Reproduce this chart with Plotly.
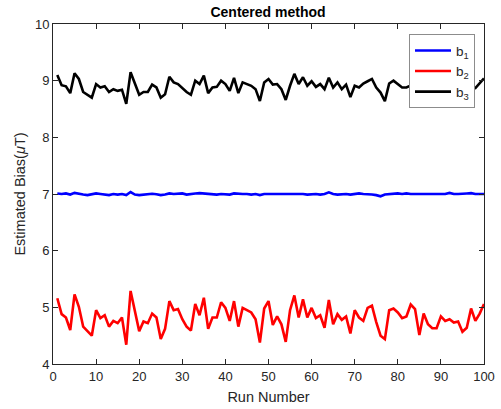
import plotly.graph_objects as go

runs = list(range(1, 101))

b1 = [7.01, 7.00, 7.01, 6.99, 7.02, 7.00, 6.99, 6.98, 7.00, 7.01,
      7.00, 6.99, 6.98, 7.00, 6.99, 7.00, 6.98, 7.035, 6.99, 6.98,
      6.99, 7.00, 7.005, 6.995, 6.98, 6.99, 7.01, 7.00, 7.01, 7.01,
      6.99, 7.005, 7.01, 7.015, 7.01, 7.01, 7.00, 6.99, 7.00, 6.99,
      6.99, 7.01, 7.00, 7.00, 7.00, 6.99, 7.00, 6.98, 7.00, 7.00,
      7.00, 7.00, 7.01, 7.00, 7.00, 7.01, 7.00, 7.00, 6.99, 7.00,
      7.00, 6.99, 7.00, 7.03, 7.00, 6.99, 7.00, 7.00, 6.99, 7.00,
      7.01, 7.00, 7.00, 6.99, 6.98, 6.96, 6.99, 7.00, 7.01, 7.01,
      7.00, 7.01, 7.00, 7.00, 7.00, 6.99, 6.99, 6.99, 6.99, 7.00,
      7.00, 7.02, 7.00, 7.00, 7.00, 7.01, 7.015, 7.00, 7.00, 7.00]

b2 = [5.16, 4.88, 4.82, 4.60, 5.23, 5.01, 4.66, 4.58, 4.50, 4.95,
      4.81, 4.86, 4.66, 4.76, 4.72, 4.82, 4.34, 5.29, 4.92, 4.58,
      4.75, 4.72, 4.89, 4.82, 4.44, 4.62, 5.11, 4.95, 4.97, 4.79,
      4.66, 4.59, 5.06, 4.86, 5.17, 4.62, 4.82, 4.82, 5.09, 4.99,
      4.76, 5.11, 4.66, 4.99, 4.95, 4.91, 4.79, 4.38, 4.98, 5.11,
      4.69, 4.84, 4.70, 4.39, 4.95, 5.21, 4.82, 5.14, 4.82, 4.99,
      4.81, 4.86, 4.64, 5.13, 4.70, 4.88, 4.78, 4.84, 4.54, 4.95,
      4.82, 4.76, 4.99, 5.03, 4.74, 4.50, 4.44, 4.95, 4.98, 4.91,
      4.81, 4.84, 5.05, 4.97, 4.51, 4.89, 4.70, 4.63, 4.63, 4.84,
      4.76, 4.79, 4.73, 4.75, 4.57, 4.64, 4.98, 4.76, 4.89, 5.06]

b3 = [9.10, 8.92, 8.90, 8.78, 9.13, 9.03, 8.80, 8.75, 8.70, 8.94,
      8.88, 8.90, 8.80, 8.85, 8.82, 8.84, 8.59, 9.15, 8.95, 8.75,
      8.80, 8.80, 8.93, 8.88, 8.70, 8.76, 9.07, 8.97, 8.94, 8.87,
      8.80, 8.75, 9.00, 8.94, 9.09, 8.78, 8.88, 8.89, 9.00, 8.94,
      8.82, 9.05, 8.78, 8.97, 8.94, 8.91, 8.85, 8.64, 8.97, 9.03,
      8.93, 8.94, 8.85, 8.66, 8.91, 9.12, 8.94, 9.06, 8.91, 8.99,
      8.89, 8.94, 8.85, 9.05, 8.88, 8.97, 8.85, 8.93, 8.71, 8.91,
      8.88, 8.95, 8.99, 9.03, 8.88, 8.79, 8.64, 8.95, 9.00, 8.94,
      8.88, 8.88, 8.92, 8.95, 8.85, 9.02, 8.80, 8.93, 8.88, 9.05,
      8.82, 8.95, 8.90, 8.78, 8.98, 8.92, 8.85, 8.87, 8.96, 9.04]

series = [("b<sub>1</sub>", b1, "#0000FF"),
          ("b<sub>2</sub>", b2, "#FF0000"),
          ("b<sub>3</sub>", b3, "#000000")]

x_ticks = list(range(0, 101, 10))
y_ticks = list(range(4, 11))

fig = go.Figure()
for name, vals, color in series:
    fig.add_trace(go.Scatter(x=runs, y=vals, mode="lines", name=name,
                             line=dict(color=color, width=2.6)))

axis_common = dict(showline=True, linecolor="#262626", linewidth=1,
                   mirror="ticks", ticks="inside", ticklen=5,
                   tickcolor="#262626", showgrid=False, zeroline=False,
                   automargin=False,
                   tickfont=dict(family="Liberation Sans, Arial", size=13, color="#262626"))

fig.update_layout(
    width=501, height=409,
    margin=dict(l=53, r=17, t=24, b=45),
    paper_bgcolor="white", plot_bgcolor="white",
    font=dict(family="Liberation Sans, Arial", color="#262626"),
    title=dict(text="<b>Centered method</b>", x=0.535, xanchor="center",
               y=0.971, yanchor="middle", yref="container",
               font=dict(size=14, color="black")),
    xaxis=dict(range=[0, 100], tickvals=x_ticks,
               title=dict(text="Run Number", font=dict(size=14.5), standoff=9),
               **axis_common),
    yaxis=dict(range=[4, 10], tickvals=y_ticks,
               title=dict(text="Estimated Bias(<i>μ</i>T)", font=dict(size=14.5), standoff=5),
               **axis_common),
    legend=dict(x=0.826, y=0.970, xanchor="left", yanchor="top",
                bgcolor="white", bordercolor="#8c8c8c", borderwidth=1,
                font=dict(size=13.5, color="#262626"), tracegroupgap=0,
                itemwidth=36),
    showlegend=True,
)

fig.write_html("out.html", config={"displayModeBar": False},
               post_script="document.body.style.margin='0px';document.body.style.overflow='hidden';")
